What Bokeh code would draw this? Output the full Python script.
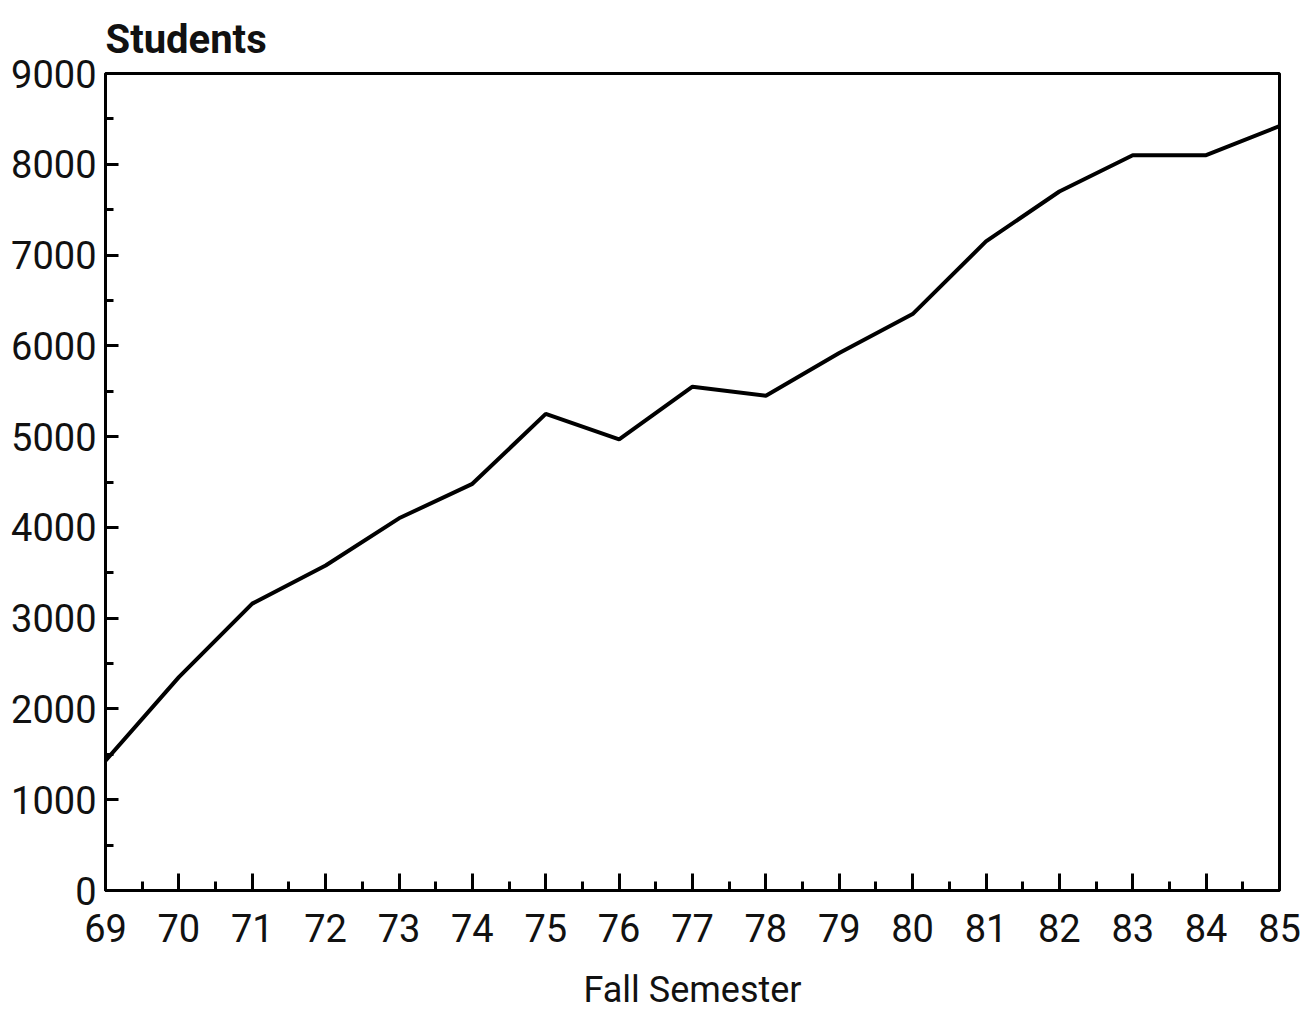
from bokeh.plotting import figure
from bokeh.models import FixedTicker, Range1d
from bokeh.embed import file_html
from bokeh.resources import INLINE

years = [69, 70, 71, 72, 73, 74, 75, 76, 77, 78, 79, 80, 81, 82, 83, 84, 85]
students = [1430, 2350, 3160, 3580, 4100, 4480, 5250, 4970, 5550, 5450,
            5920, 6350, 7150, 7700, 8100, 8100, 8420]
x_ticks = list(range(69, 86))
x_minor = [y + 0.5 for y in range(69, 85)]
y_ticks = list(range(0, 9001, 1000))
y_minor = list(range(500, 9000, 1000))

FONT = "Roboto"

p = figure(width=1307, height=1016, output_backend="svg", toolbar_location=None,
           x_range=Range1d(69, 85), y_range=Range1d(0, 9000),
           min_border_left=105, min_border_right=28, min_border_top=73, min_border_bottom=126,
           title="Students")
p.background_fill_color = "white"
p.border_fill_color = "white"
p.outline_line_color = "black"
p.outline_line_width = 3
p.grid.visible = False

p.title.text_font = FONT
p.title.text_font_size = "40px"
p.title.text_font_style = "bold"
p.title.text_color = "#111111"
p.title.align = "left"
p.title.offset = 0
p.title.standoff = 22

p.line(years, students, line_color="black", line_width=4)

xa = p.xaxis[0]
xa.ticker = FixedTicker(ticks=x_ticks, minor_ticks=x_minor)
xa.major_tick_in = 17
xa.major_tick_out = 0
xa.minor_tick_in = 9
xa.minor_tick_out = 0
xa.axis_line_width = 3
xa.major_tick_line_width = 3
xa.minor_tick_line_width = 3
xa.major_label_text_font = FONT
xa.major_label_text_font_size = "38px"
xa.major_label_text_color = "#111111"
xa.major_label_standoff = 23
xa.axis_label = "Fall Semester"
xa.axis_label_text_font = FONT
xa.axis_label_text_font_size = "36px"
xa.axis_label_text_font_style = "normal"
xa.axis_label_text_color = "#111111"
xa.axis_label_standoff = 24

ya = p.yaxis[0]
ya.ticker = FixedTicker(ticks=y_ticks, minor_ticks=y_minor)
ya.major_tick_in = 13
ya.major_tick_out = 0
ya.minor_tick_in = 8
ya.minor_tick_out = 0
ya.axis_line_width = 3
ya.major_tick_line_width = 3
ya.minor_tick_line_width = 3
ya.major_label_text_font = FONT
ya.major_label_text_font_size = "38px"
ya.major_label_text_color = "#111111"
ya.major_label_standoff = 9

open("out.html", "w").write(file_html(p, INLINE))
